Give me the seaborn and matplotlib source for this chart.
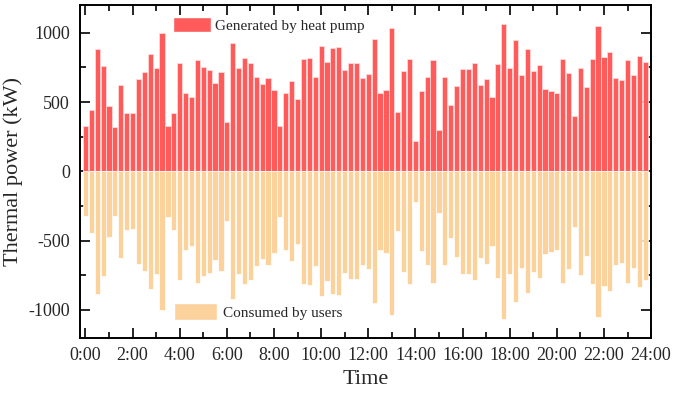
import numpy as np
import pandas as pd
import matplotlib
matplotlib.use('Agg')
import matplotlib.pyplot as plt
from matplotlib.patches import Patch
from matplotlib.ticker import MultipleLocator
import seaborn as sns

# Data: 15-min intervals over one day (hours)
hours = [i * 0.25 for i in range(96)]

generated = [324, 446, 886, 758, 473, 319, 624, 425, 418, 670, 720, 847, 744, 1001, 326, 422,
             785, 569, 540, 806, 754, 730, 641, 720, 360, 924, 744, 816, 785, 684, 629, 677,
             586, 329, 564, 650, 521, 814, 821, 682, 902, 792, 888, 895, 734, 780, 780, 672,
             706, 953, 569, 586, 1037, 427, 727, 814, 218, 578, 679, 806, 302, 679, 480, 619,
             737, 737, 785, 622, 665, 538, 773, 1063, 744, 946, 696, 881, 725, 766, 593, 581,
             566, 809, 708, 403, 749, 612, 811, 1049, 828, 864, 672, 658, 802, 696, 833, 787]

consumed = [-324, -446, -886, -758, -473, -319, -624, -425, -418, -670, -720, -847, -744, -1001, -326, -422,
            -785, -569, -540, -806, -754, -730, -641, -720, -360, -924, -744, -816, -785, -684, -629, -677,
            -586, -329, -564, -650, -521, -814, -821, -682, -902, -792, -888, -895, -734, -780, -780, -672,
            -706, -953, -569, -586, -1037, -427, -727, -814, -218, -578, -679, -806, -302, -679, -480, -619,
            -737, -737, -785, -622, -665, -538, -773, -1063, -744, -946, -696, -881, -725, -766, -593, -581,
            -566, -809, -708, -403, -749, -612, -811, -1049, -828, -864, -672, -658, -802, -696, -833, -787]

xtick_pos = list(range(0, 25, 2))
xtick_labels = [f'{h}:00' for h in xtick_pos]

gen_color = '#FF5B5B'
use_color = '#FCD29C'

sns.set_style('ticks')
plt.rcParams['font.family'] = ['Liberation Serif', 'DejaVu Serif']
plt.rcParams['axes.unicode_minus'] = False

df = pd.DataFrame({'hour': hours, 'generated': generated, 'consumed': consumed})

fig = plt.figure(figsize=(6.74, 3.94), dpi=100)
ax = fig.add_axes([0.118, 0.143, 0.848, 0.844])

sns.barplot(data=df, x='hour', y='generated', native_scale=True, orient='x',
            color=gen_color, saturation=1, errorbar=None, width=0.88,
            edgecolor='#FFE0E0', linewidth=0.5, ax=ax)
sns.barplot(data=df, x='hour', y='consumed', native_scale=True, orient='x',
            color=use_color, saturation=1, errorbar=None, width=0.88,
            edgecolor='white', linewidth=0.5, ax=ax)

ax.set_xlim(-0.25, 24)
ax.set_ylim(-1200, 1200)
ax.set_xticks(xtick_pos)
ax.set_xticklabels(xtick_labels)
ax.xaxis.set_minor_locator(MultipleLocator(1))
ax.set_yticks([-1000, -500, 0, 500, 1000])
ax.yaxis.set_minor_locator(MultipleLocator(250))

ax.tick_params(which='both', direction='in', top=True, right=True, width=1.2, color='black')
ax.tick_params(which='major', length=7, labelsize=13)
ax.tick_params(axis='x', which='major', pad=7)
ax.tick_params(axis='y', which='major', pad=7)
ax.tick_params(which='minor', length=4)
for s in ax.spines.values():
    s.set_linewidth(1.4)
    s.set_color('black')

ax.set_xlabel('Time', fontsize=16, labelpad=4)
ax.set_ylabel('Thermal power (kW)', fontsize=16, labelpad=4)

leg1 = ax.legend(handles=[Patch(facecolor=gen_color, edgecolor='white', label='Generated by heat pump')],
                 loc='upper left', bbox_to_anchor=(0.163, 0.965), frameon=False, fontsize=11,
                 borderpad=0, borderaxespad=0, handlelength=2.5, handleheight=1.2, handletextpad=0.3)
ax.add_artist(leg1)
ax.legend(handles=[Patch(facecolor=use_color, edgecolor='white', label='Consumed by users')],
          loc='upper left', bbox_to_anchor=(0.166, 0.104), frameon=False, fontsize=11,
          borderpad=0, borderaxespad=0, handlelength=2.8, handleheight=1.35, handletextpad=0.35)

fig.savefig('out.png', dpi=100)
